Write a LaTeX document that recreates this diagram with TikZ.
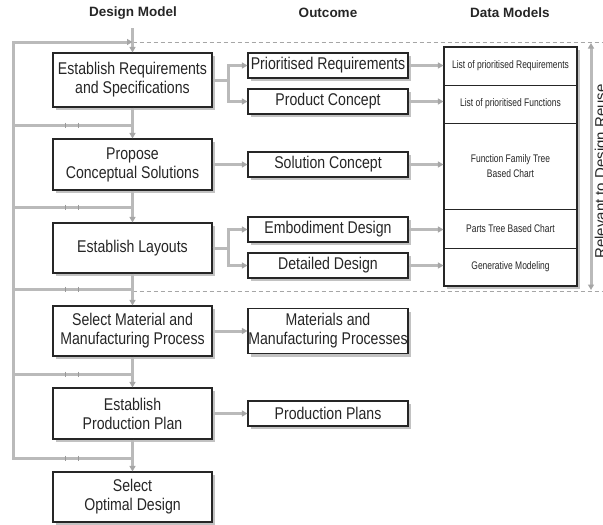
\documentclass[tikz,border=0pt]{standalone}
\usepackage{fontspec}
\setmainfont{Liberation Sans}
\newfontfamily\condfont[FakeStretch=0.83]{Liberation Sans}
\newfontfamily\narrowfont[FakeStretch=0.77]{Liberation Sans}
\usetikzlibrary{arrows.meta,shadows,calc}

\begin{document}
\begin{tikzpicture}[x=1pt,y=-1pt,
  boxshadow/.style={drop shadow={shadow xshift=3pt,shadow yshift=-3pt,fill=black!24,opacity=1}},
  dbox/.style={draw=black!85,line width=1.1pt,fill=white,minimum width=159pt,inner sep=0pt,
    align=center,text=black!85,font=\condfont\fontsize{17}{19}\selectfont,boxshadow},
  obox/.style={dbox,minimum width=160pt,minimum height=25pt},
  rowbox/.style={minimum width=133pt,inner sep=0pt,align=center,text=black!85,
    font=\narrowfont\fontsize{11}{14.5}\selectfont},
  header/.style={font=\bfseries\fontsize{13.5}{16}\selectfont,text=black!85},
  conn/.style={draw=black!27,line width=3pt},
  tipa/.tip={Triangle[length=5.5pt,width=6pt,fill=black!35,color=black!35]},
  flow/.style={conn,-tipa},
  reusedash/.style={draw=black!35,line width=0.7pt,dash pattern=on 4pt off 3pt},
  sepline/.style={draw=black!85,line width=1pt},
  tickmark/.style={draw=black!40,line width=0.8pt}]

\useasboundingbox (0,0) rectangle (603,525);

% column headings
\node[header] (hdesign) at (133,13) {Design Model};
\node[header] (hout) at (328,13) {Outcome};
\node[header] (hdata) at (510,13) {Data Models};

% design model steps
\node[dbox,minimum height=54pt] (d1) at (132.5,80) {Establish Requirements\\and Specifications};
\node[dbox,minimum height=51pt] (d2) at (132.5,164.5) {Propose\\Conceptual Solutions};
\node[dbox,minimum height=50pt] (d3) at (132.5,248) {Establish Layouts};
\node[dbox,minimum height=50pt] (d4) at (132.5,331) {Select Material and\\Manufacturing Process};
\node[dbox,minimum height=51pt] (d5) at (132.5,413.5) {Establish\\Production Plan};
\node[dbox,minimum height=50pt] (d6) at (132.5,497) {Select\\Optimal Design};

% outcomes
\node[obox] (o1) at (328,65.5) {Prioritised Requirements};
\node[obox] (o2) at (328,101.5) {Product Concept};
\node[obox] (o3) at (328,164.5) {Solution Concept};
\node[obox] (o4) at (328,229.5) {Embodiment Design};
\node[obox] (o5) at (328,265.5) {Detailed Design};
\node[obox,minimum height=45pt] (o6) at (328,331) {Materials and\\Manufacturing Processes};
\node[obox] (o7) at (328,413.5) {Production Plans};

% data models column
\node[draw=black!85,line width=1.1pt,fill=white,minimum width=133pt,minimum height=239pt,
  inner sep=0pt,boxshadow] (dm) at (510.5,166.5) {};
\node[rowbox,minimum height=38pt] (r1) at (510.5,66) {List of prioritised Requirements};
\node[rowbox,minimum height=38pt] (r2) at (510.5,104) {List of prioritised Functions};
\node[rowbox,minimum height=86pt] (r3) at (510.5,166) {Function Family Tree\\Based Chart};
\node[rowbox,minimum height=39pt] (r4) at (510.5,228.5) {Parts Tree Based Chart};
\node[rowbox,minimum height=38pt] (r5) at (510.5,267) {Generative Modeling};
\foreach \r in {r1,r2,r3,r4}
  \draw[sepline] (\r.south -| dm.west) -- (\r.south -| dm.east);

% reuse band
\coordinate (bandtop) at (132.5,42);
\coordinate (bandtopend) at (603,42);
\coordinate (bandbot) at (132.5,291);
\coordinate (bandbotend) at (603,291);
\draw[reusedash] (bandtop) -- (bandtopend);
\draw[reusedash] (bandbot) -- (bandbotend);
\coordinate (rtop) at (591,43);
\coordinate (rbot) at (591,290);
\draw[conn,tipa-tipa] (rtop) -- (rbot);
\node[rotate=90,anchor=base,font=\fontsize{15}{18}\selectfont,text=black!85] (reuse) at (605.5,171.5)
  {Relevant to Design Reuse};

% main flow and feedback loop
\coordinate (start) at (132.5,28);
\coordinate (spine) at (13,42);
\coordinate (fb1) at (132.5,125);
\coordinate (fb2) at (132.5,207);
\coordinate (fb3) at (132.5,289);
\coordinate (fb4) at (132.5,374);
\coordinate (fb5) at (132.5,458);

\draw[flow] (start) -- (d1.north);
\draw[conn,tipa-] (bandtop) -- (spine) -- (fb5 -| spine) -- (fb5);
\foreach \a/\b/\f in {d1/d2/fb1,d2/d3/fb2,d3/d4/fb3,d4/d5/fb4,d5/d6/fb5} {
  \draw[flow] (\a.south) -- (\b.north);
  \draw[conn] (\f -| spine) -- (\f);
  \draw[tickmark] ($(\f)+(-67.5,-2.5)$) -- ($(\f)+(-67.5,2.5)$);
  \draw[tickmark] ($(\f)+(-54.5,-2.5)$) -- ($(\f)+(-54.5,2.5)$);
}

% design steps to outcomes
\draw[flow] (d1.east) -- ++(16,0) |- (o1.west);
\draw[flow] (d1.east) -- ++(16,0) |- (o2.west);
\draw[flow] (d2.east) -- (o3.west);
\draw[flow] (d3.east) -- ++(16,0) |- (o4.west);
\draw[flow] (d3.east) -- ++(16,0) |- (o5.west);
\draw[flow] (d4.east) -- (o6.west);
\draw[flow] (d5.east) -- (o7.west);

% outcomes to data models
\foreach \o in {o1,o2,o3,o4,o5}
  \draw[flow] (\o.east) -- (\o.east -| dm.west);

\end{tikzpicture}
\end{document}
